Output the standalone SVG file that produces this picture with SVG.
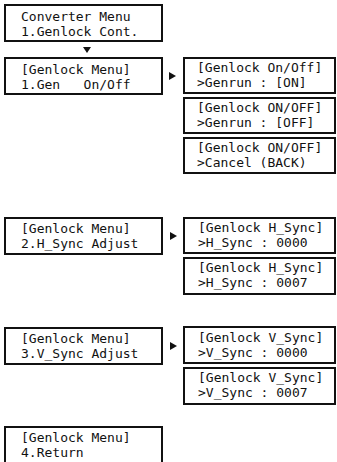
<svg xmlns="http://www.w3.org/2000/svg" width="337" height="462" viewBox="0 0 337 462">
<style>
.box{fill:#fff;stroke:#111;stroke-width:2}
text{font-family:"DejaVu Sans Mono","Liberation Mono",monospace;font-size:13px;fill:#111;white-space:pre}
.arr{fill:#111}
</style>
<rect width="337" height="462" fill="#fff"/>
<g id="converter-menu"><rect class="box" x="5" y="5" width="157" height="36"/><text x="21" y="21">Converter Menu</text><text x="21" y="36">1.Genlock Cont.</text></g>
<g id="gen-onoff"><rect class="box" x="5" y="58" width="157" height="36"/><text x="21" y="74">[Genlock Menu]</text><text x="21" y="89">1.Gen   On/Off</text></g>
<g id="genrun-on"><rect class="box" x="184" y="58" width="151" height="35"/><text x="197" y="72">[Genlock On/Off]</text><text x="197" y="87">&gt;Genrun : [ON]</text></g>
<g id="genrun-off"><rect class="box" x="184" y="98" width="151" height="35"/><text x="197" y="112">[Genlock ON/OFF]</text><text x="197" y="127">&gt;Genrun : [OFF]</text></g>
<g id="cancel"><rect class="box" x="184" y="138" width="151" height="35"/><text x="197" y="152">[Genlock ON/OFF]</text><text x="197" y="167">&gt;Cancel (BACK)</text></g>
<g id="hsync-menu"><rect class="box" x="5" y="218" width="157" height="36"/><text x="21" y="233">[Genlock Menu]</text><text x="21" y="248">2.H_Sync Adjust</text></g>
<g id="hsync-0000"><rect class="box" x="184" y="218" width="151" height="35"/><text x="198" y="232">[Genlock H_Sync]</text><text x="198" y="247">&gt;H_Sync : 0000</text></g>
<g id="hsync-0007"><rect class="box" x="184" y="258" width="151" height="36"/><text x="198" y="272">[Genlock H_Sync]</text><text x="198" y="287">&gt;H_Sync : 0007</text></g>
<g id="vsync-menu"><rect class="box" x="5" y="328" width="157" height="36"/><text x="21" y="343">[Genlock Menu]</text><text x="21" y="358">3.V_Sync Adjust</text></g>
<g id="vsync-0000"><rect class="box" x="184" y="327" width="151" height="36"/><text x="198" y="342">[Genlock V_Sync]</text><text x="198" y="357">&gt;V_Sync : 0000</text></g>
<g id="vsync-0007"><rect class="box" x="184" y="368" width="151" height="36"/><text x="198" y="382">[Genlock V_Sync]</text><text x="198" y="397">&gt;V_Sync : 0007</text></g>
<g id="return"><rect class="box" x="5" y="427" width="157" height="50"/><text x="21" y="442">[Genlock Menu]</text><text x="21" y="457">4.Return</text></g>
<g id="connectors">
<polygon class="arr" points="83,47 91,47 87,53"/>
<polygon class="arr" points="169,72 169,80 176,76"/>
<polygon class="arr" points="170,232 170,240 177,236"/>
<polygon class="arr" points="170,342 170,350 177,346"/>
</g>
</svg>
